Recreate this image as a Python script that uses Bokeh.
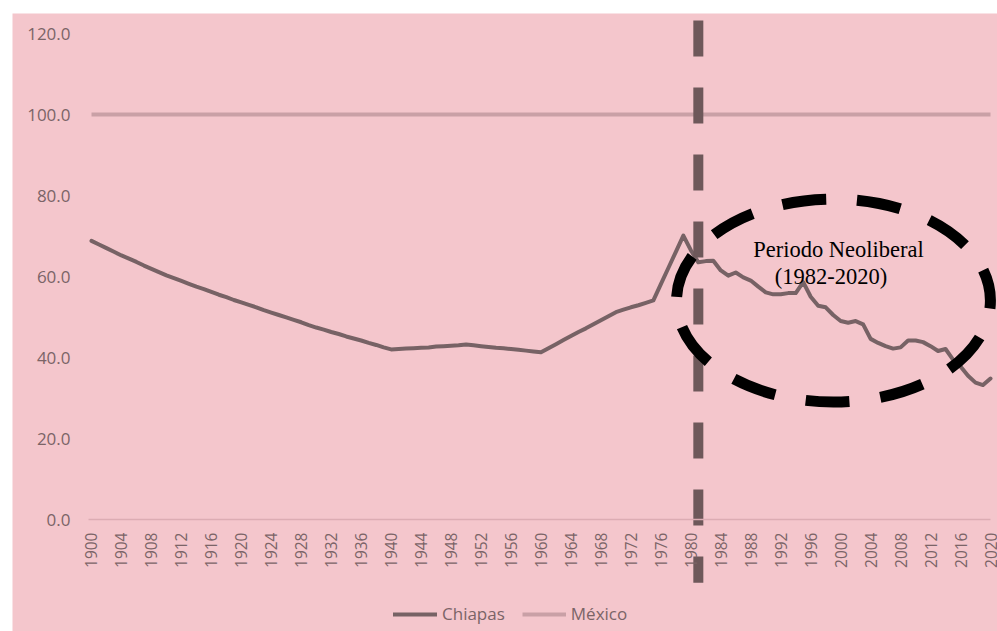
from math import pi
from bokeh.plotting import figure
from bokeh.models import (Range1d, LinearAxis, FixedTicker, NumeralTickFormatter,
                          Legend, LegendItem, ColumnDataSource, Label)
from bokeh.embed import file_html
from bokeh.resources import INLINE

# ---------------- data ----------------
years = list(range(1900, 2021))
chiapas = [
    68.8, 67.9, 67.0, 66.1, 65.2, 64.4, 63.6, 62.7, 61.9, 61.1,   # 1900-1909
    60.3, 59.6, 58.9, 58.2, 57.5, 56.9, 56.2, 55.5, 54.9, 54.2,   # 1910-1919
    53.6, 53.0, 52.4, 51.7, 51.1, 50.5, 49.9, 49.3, 48.7, 48.0,   # 1920-1929
    47.4, 46.9, 46.3, 45.8, 45.2, 44.7, 44.2, 43.6, 43.1, 42.5,   # 1930-1939
    42.0, 42.1, 42.2, 42.3, 42.4, 42.5, 42.7, 42.8, 42.9, 43.0,   # 1940-1949
    43.2, 43.0, 42.8, 42.6, 42.4, 42.3, 42.1, 41.9, 41.7, 41.5,   # 1950-1959
    41.3, 42.3, 43.3, 44.3, 45.3, 46.3, 47.2, 48.2, 49.2, 50.2,   # 1960-1969
    51.2, 51.8, 52.4, 52.9, 53.5, 54.1, 58.1, 62.1, 66.1, 70.1,   # 1970-1979
    66.5, 63.5, 63.8, 63.9, 61.5, 60.2, 61.0, 59.8, 59.0, 57.5,   # 1980-1989
    56.1, 55.6, 55.6, 55.9, 55.9, 58.6, 55.0, 52.8, 52.4, 50.5,   # 1990-1999
    49.0, 48.6, 49.0, 48.2, 44.6, 43.6, 42.8, 42.2, 42.5, 44.2,   # 2000-2009
    44.2, 43.8, 42.8, 41.6, 42.1, 39.5, 37.8, 35.5, 33.8, 33.2,   # 2010-2019
    34.8,                                                         # 2020
]
mexico = [100.0] * len(years)

x_ticks = list(range(1900, 2021, 4))
y_ticks = [0, 20, 40, 60, 80, 100, 120]
series_names = ["Chiapas", "México"]
note_lines = ["Periodo Neoliberal", "(1982-2020)"]

# annotation geometry (marker line + highlight ellipse)
marker_year = 1981
marker_top, marker_bottom = 123.2, -15.6
ell_x, ell_y, ell_w, ell_h = 1999.04, 54.07, 41.9, 50.1

# ---------------- style ----------------
BG = "#f4c6cc"
TXT = "#7b6467"
C_CHI = "#776265"
C_MEX = "#c9a0a6"

p = figure(width=997, height=631, output_backend="svg", toolbar_location=None,
           x_range=Range1d(1889.455, 2020.934), y_range=Range1d(-27.65, 124.94),
           x_axis_location=None, y_axis_location=None,
           min_border_left=12, min_border_top=13, min_border_right=0, min_border_bottom=0,
           background_fill_color=BG, border_fill_color="white", outline_line_color=None)
p.xgrid.visible = False
p.ygrid.visible = False

xaxis = LinearAxis(fixed_location=0, bounds=(1899.6, 2020.0),
                   ticker=FixedTicker(ticks=x_ticks),
                   major_label_orientation=pi / 2,
                   major_tick_out=0, major_tick_in=0, minor_tick_out=0, minor_tick_in=0,
                   axis_line_color="#dcacb3", axis_line_width=1.5,
                   major_label_standoff=13,
                   major_label_text_font="Open Sans", major_label_text_font_size="15.5px",
                   major_label_text_color=TXT)
p.add_layout(xaxis, "below")

yaxis = LinearAxis(fixed_location=1899.6,
                   ticker=FixedTicker(ticks=y_ticks),
                   formatter=NumeralTickFormatter(format="0.0"),
                   axis_line_color=None,
                   major_tick_out=0, major_tick_in=0, minor_tick_out=0, minor_tick_in=0,
                   major_label_standoff=18,
                   major_label_text_font="Open Sans", major_label_text_font_size="17px",
                   major_label_text_color=TXT)
p.add_layout(yaxis, "left")

src = ColumnDataSource(dict(year=years, chiapas=chiapas, mexico=mexico))
r_mex = p.line("year", "mexico", source=src, line_color=C_MEX, line_width=4)
r_chi = p.line("year", "chiapas", source=src, line_color=C_CHI, line_width=4,
               line_join="round", line_cap="round")

p.segment(x0=[marker_year], y0=[marker_top], x1=[marker_year], y1=[marker_bottom],
          line_color="#6e585a", line_width=10, line_dash="36 31")

p.ellipse(x=[ell_x], y=[ell_y], width=[ell_w], height=[ell_h],
          fill_color=None, line_color="black", line_width=11,
          line_dash="44 31", line_dash_offset=36)

p.add_layout(Label(x=1999.71, y=66.67, text=note_lines[0], text_align="center",
                   text_baseline="alphabetic", text_font="Liberation Serif",
                   text_font_size="22.5px", text_color="black"))
p.add_layout(Label(x=1998.71, y=60.0, text=note_lines[1], text_align="center",
                   text_baseline="alphabetic", text_font="Liberation Serif",
                   text_font_size="22.5px", text_color="black"))

legend = Legend(items=[LegendItem(label=series_names[0], renderers=[r_chi]),
                       LegendItem(label=series_names[1], renderers=[r_mex])],
                orientation="horizontal", location=(381, 6),
                background_fill_alpha=0, border_line_color=None,
                glyph_width=44, glyph_height=20, label_height=20,
                label_standoff=5, spacing=17, padding=0, margin=0,
                label_text_font="Open Sans", label_text_font_size="17px",
                label_text_color=TXT)
p.add_layout(legend)

open("out.html", "w").write(file_html(p, INLINE))
